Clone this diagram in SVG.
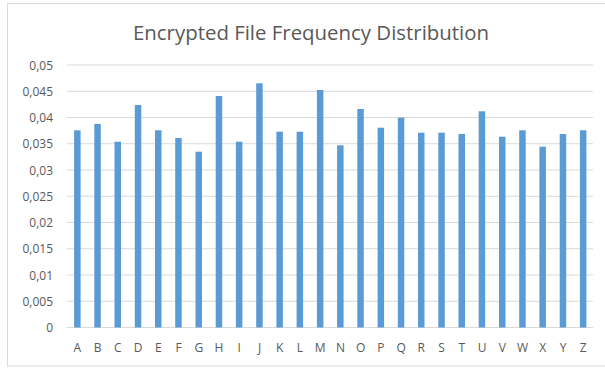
<svg xmlns="http://www.w3.org/2000/svg" width="605" height="368" viewBox="0 0 605 368">
<style>
.grid{stroke:#D9D9D9;stroke-width:1}
.bar{fill:#5B9BD5}
.yl{font-family:"Open Sans","Liberation Sans",sans-serif;font-size:12px;fill:#595959;text-anchor:end}
.xl{font-family:"Open Sans","Liberation Sans",sans-serif;font-size:12px;fill:#595959;text-anchor:middle}
.title{font-family:"Open Sans","Liberation Sans",sans-serif;font-size:20px;fill:#595959;text-anchor:middle}
</style>
<rect x="0" y="0" width="605" height="368" fill="#FFFFFF"/>
<rect x="7.5" y="3.5" width="610" height="362.5" fill="#FFFFFF" stroke="#D9D9D9" stroke-width="1"/>
<text class="title" x="311" y="40" textLength="356" lengthAdjust="spacingAndGlyphs">Encrypted File Frequency Distribution</text>
<g id="gridlines">
<line class="grid" x1="67" y1="65" x2="593" y2="65"/>
<line class="grid" x1="67" y1="91.25" x2="593" y2="91.25"/>
<line class="grid" x1="67" y1="117.5" x2="593" y2="117.5"/>
<line class="grid" x1="67" y1="143.75" x2="593" y2="143.75"/>
<line class="grid" x1="67" y1="170" x2="593" y2="170"/>
<line class="grid" x1="67" y1="196.25" x2="593" y2="196.25"/>
<line class="grid" x1="67" y1="222.5" x2="593" y2="222.5"/>
<line class="grid" x1="67" y1="248.75" x2="593" y2="248.75"/>
<line class="grid" x1="67" y1="275" x2="593" y2="275"/>
<line class="grid" x1="67" y1="301.25" x2="593" y2="301.25"/>
<line class="grid" x1="67" y1="327.5" x2="593" y2="327.5"/>
</g>
<g id="y-axis-labels">
<text class="yl" x="53" y="69.5">0,05</text>
<text class="yl" x="53" y="95.75">0,045</text>
<text class="yl" x="53" y="122">0,04</text>
<text class="yl" x="53" y="148.25">0,035</text>
<text class="yl" x="53" y="174.5">0,03</text>
<text class="yl" x="53" y="200.75">0,025</text>
<text class="yl" x="53" y="227">0,02</text>
<text class="yl" x="53" y="253.25">0,015</text>
<text class="yl" x="53" y="279.5">0,01</text>
<text class="yl" x="53" y="305.75">0,005</text>
<text class="yl" x="53" y="332">0</text>
</g>
<g id="bars">
<rect class="bar" x="74.1" y="130.3" width="6.5" height="197.2"/>
<rect class="bar" x="94.3" y="124" width="6.5" height="203.5"/>
<rect class="bar" x="114.5" y="141.7" width="6.5" height="185.8"/>
<rect class="bar" x="134.8" y="105" width="6.5" height="222.5"/>
<rect class="bar" x="155" y="130.3" width="6.5" height="197.2"/>
<rect class="bar" x="175.2" y="138" width="6.5" height="189.5"/>
<rect class="bar" x="195.5" y="151.7" width="6.5" height="175.8"/>
<rect class="bar" x="215.7" y="96" width="6.5" height="231.5"/>
<rect class="bar" x="235.9" y="141.7" width="6.5" height="185.8"/>
<rect class="bar" x="256.2" y="83.3" width="6.5" height="244.2"/>
<rect class="bar" x="276.4" y="131.7" width="6.5" height="195.8"/>
<rect class="bar" x="296.6" y="131.7" width="6.5" height="195.8"/>
<rect class="bar" x="316.9" y="90" width="6.5" height="237.5"/>
<rect class="bar" x="337.1" y="145.3" width="6.5" height="182.2"/>
<rect class="bar" x="357.3" y="109" width="6.5" height="218.5"/>
<rect class="bar" x="377.6" y="127.7" width="6.5" height="199.8"/>
<rect class="bar" x="397.8" y="117.7" width="6.5" height="209.8"/>
<rect class="bar" x="418" y="132.7" width="6.5" height="194.8"/>
<rect class="bar" x="438.3" y="132.7" width="6.5" height="194.8"/>
<rect class="bar" x="458.5" y="134" width="6.5" height="193.5"/>
<rect class="bar" x="478.7" y="111.3" width="6.5" height="216.2"/>
<rect class="bar" x="499" y="136.7" width="6.5" height="190.8"/>
<rect class="bar" x="519.2" y="130.3" width="6.5" height="197.2"/>
<rect class="bar" x="539.4" y="146.7" width="6.5" height="180.8"/>
<rect class="bar" x="559.7" y="134" width="6.5" height="193.5"/>
<rect class="bar" x="579.9" y="130.3" width="6.5" height="197.2"/>
</g>
<g id="x-axis-labels">
<text class="xl" x="77.4" y="352">A</text>
<text class="xl" x="97.6" y="352">B</text>
<text class="xl" x="117.8" y="352">C</text>
<text class="xl" x="138.1" y="352">D</text>
<text class="xl" x="158.3" y="352">E</text>
<text class="xl" x="178.5" y="352">F</text>
<text class="xl" x="198.8" y="352">G</text>
<text class="xl" x="219" y="352">H</text>
<text class="xl" x="239.2" y="352">I</text>
<text class="xl" x="259.5" y="352">J</text>
<text class="xl" x="279.7" y="352">K</text>
<text class="xl" x="299.9" y="352">L</text>
<text class="xl" x="320.2" y="352">M</text>
<text class="xl" x="340.4" y="352">N</text>
<text class="xl" x="360.6" y="352">O</text>
<text class="xl" x="380.9" y="352">P</text>
<text class="xl" x="401.1" y="352">Q</text>
<text class="xl" x="421.3" y="352">R</text>
<text class="xl" x="441.6" y="352">S</text>
<text class="xl" x="461.8" y="352">T</text>
<text class="xl" x="482" y="352">U</text>
<text class="xl" x="502.3" y="352">V</text>
<text class="xl" x="522.5" y="352">W</text>
<text class="xl" x="542.7" y="352">X</text>
<text class="xl" x="563" y="352">Y</text>
<text class="xl" x="583.2" y="352">Z</text>
</g>
</svg>
